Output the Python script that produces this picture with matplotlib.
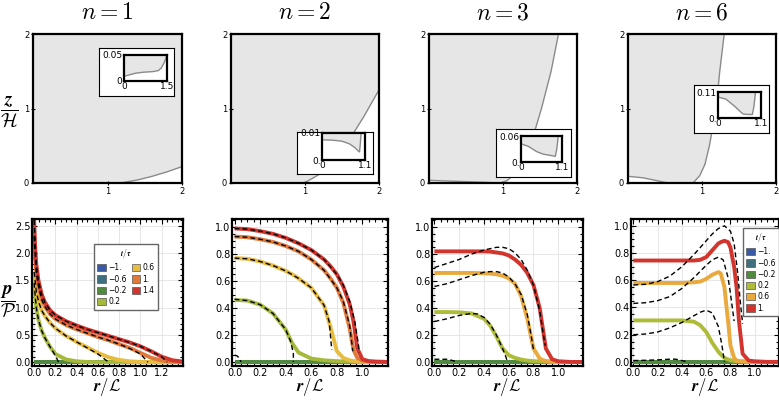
import matplotlib
matplotlib.use("Agg")
import matplotlib.pyplot as plt
from matplotlib.patches import Patch

plt.rcParams['mathtext.fontset'] = 'cm'
plt.rcParams['font.family'] = ['DejaVu Sans']

W, H = 779, 400
fig = plt.figure(figsize=(7.79, 4.0), dpi=100)

def ax_px(x0, y0, x1, y1, **kw):
    return fig.add_axes([x0 / W, 1 - y1 / H, (x1 - x0) / W, (y1 - y0) / H], **kw)

# ---------------- data: top row (free surface z/H vs r/L) ----------------
n_values = [1, 2, 3, 6]
top_x = [
    [0.0, 1.0, 1.2, 1.4, 1.6, 1.8, 2.0],
    [0.0, 0.95, 1.0, 1.2, 1.4, 1.6, 1.8, 2.0],
    [0.0, 0.3, 0.6, 0.96, 1.05, 1.1, 1.2, 1.37, 1.52, 1.65, 1.75],
    [0.0, 0.2, 0.4, 0.54, 0.88, 0.97, 1.04, 1.1, 1.19, 1.24, 1.30],
]
top_y = [
    [0.0, 0.0, 0.005, 0.04, 0.09, 0.15, 0.22],
    [0.0, 0.0, 0.005, 0.12, 0.32, 0.58, 0.9, 1.25],
    [0.036, 0.025, 0.015, 0.0, 0.03, 0.07, 0.18, 0.5, 1.0, 1.5, 2.0],
    [0.09, 0.07, 0.03, 0.0, 0.0, 0.1, 0.25, 0.5, 1.0, 1.5, 2.0],
]
# insets
ins_x = [
    [0.0, 0.2, 0.4, 0.7, 1.0, 1.2, 1.3, 1.4, 1.5],
    [0.0, 0.3, 0.5, 0.7, 0.85, 0.93, 0.96, 0.98, 1.0],
    [0.0, 0.2, 0.42, 0.6, 0.8, 0.92, 0.96, 1.0],
    [0.0, 0.2, 0.43, 0.55, 0.64, 0.75, 0.88, 0.92, 0.96],
]
ins_y = [
    [0.009, 0.012, 0.015, 0.017, 0.018, 0.02, 0.025, 0.035, 0.05],
    [0.0075, 0.0073, 0.007, 0.006, 0.0045, 0.0033, 0.003, 0.006, 0.01],
    [0.042, 0.036, 0.024, 0.018, 0.015, 0.013, 0.03, 0.06],
    [0.089, 0.08, 0.049, 0.03, 0.017, 0.015, 0.015, 0.05, 0.11],
]
ins_xmax = [1.5, 1.1, 1.1, 1.1]
ins_ymax = [0.05, 0.01, 0.06, 0.11]
ins_xlabels = [["0", "1.5"], ["0", "1.1"], ["0", "1.1"], ["0", "1.1"]]
ins_ylabels = [["0", "0.05"], ["0.", "0.01"], ["0.", "0.06"], ["0.", "0.11"]]

# ---------------- data: bottom row (pressure p/P vs r/L) ----------------
t_vals7 = ["\u22121.", "\u22120.6", "\u22120.2", "0.2", "0.6", "1.", "1.4"]
t_vals6 = ["\u22121.", "\u22120.6", "\u22120.2", "0.2", "0.6", "1."]
col7 = ["#3a5aa6", "#3e6f7e", "#4f8a3f", "#a6b93a", "#e7bc40", "#e07a3c", "#d1352d"]
col6 = ["#3a5aa6", "#3e6f7e", "#4f8a3f", "#aebc3a", "#e9a93c", "#d1352d"]

# panel n=1
r1 = [0, 0.01, 0.02, 0.04, 0.07, 0.1, 0.15, 0.2, 0.3, 0.4, 0.5, 0.6, 0.7, 0.8, 0.9, 1.0, 1.1, 1.2, 1.3, 1.4]
p1 = {
    "1.4": [2.6, 2.1, 1.8, 1.5, 1.25, 1.1, 0.95, 0.86, 0.75, 0.67, 0.6, 0.54, 0.48, 0.42, 0.36, 0.29, 0.2, 0.1, 0.035, 0.01],
    "1.": [2.3, 1.9, 1.65, 1.4, 1.15, 1.02, 0.88, 0.79, 0.68, 0.6, 0.53, 0.46, 0.4, 0.33, 0.26, 0.17, 0.08, 0.03, 0.01, 0.003],
    "0.6": [1.65, 1.45, 1.3, 1.12, 0.95, 0.85, 0.72, 0.62, 0.48, 0.37, 0.27, 0.17, 0.09, 0.04, 0.015, 0.005, 0.002, 0.0, 0.0, 0.0],
    "0.2": [1.45, 1.2, 1.0, 0.78, 0.58, 0.45, 0.28, 0.15, 0.05, 0.015, 0.004, 0.0, 0.0, 0.0, 0.0, 0.0, 0.0, 0.0, 0.0, 0.0],
}
d1 = {
    "1.4": ([0, 0.02, 0.04, 0.07, 0.1, 0.15, 0.2, 0.3, 0.4, 0.5, 0.6, 0.7, 0.8, 0.9, 1.0, 1.1, 1.2, 1.25],
            [2.6, 1.8, 1.5, 1.25, 1.1, 0.95, 0.86, 0.75, 0.67, 0.6, 0.54, 0.48, 0.42, 0.36, 0.29, 0.2, 0.1, 0.0]),
    "1.": ([0, 0.02, 0.04, 0.07, 0.1, 0.15, 0.2, 0.3, 0.4, 0.5, 0.6, 0.7, 0.8, 0.9, 1.0, 1.07],
           [2.3, 1.65, 1.4, 1.15, 1.02, 0.88, 0.79, 0.68, 0.6, 0.53, 0.46, 0.4, 0.33, 0.25, 0.15, 0.0]),
    "0.6": ([0, 0.02, 0.04, 0.07, 0.1, 0.15, 0.2, 0.3, 0.4, 0.5, 0.6, 0.7],
            [1.65, 1.3, 1.12, 0.95, 0.85, 0.72, 0.62, 0.48, 0.37, 0.26, 0.15, 0.0]),
    "0.2": ([0, 0.02, 0.04, 0.07, 0.1, 0.15, 0.2, 0.23],
            [1.45, 1.0, 0.78, 0.58, 0.45, 0.28, 0.12, 0.0]),
}

# panel n=2
r2 = [0, 0.1, 0.2, 0.3, 0.4, 0.45, 0.5, 0.6, 0.7, 0.75, 0.8, 0.85, 0.9, 0.93, 0.96, 1.0, 1.05, 1.1, 1.2]
p2 = {
    "1.4": [0.99, 0.985, 0.97, 0.95, 0.92, 0.9, 0.88, 0.83, 0.76, 0.71, 0.65, 0.56, 0.43, 0.3, 0.1, 0.02, 0.006, 0.002, 0.0],
    "1.": [0.93, 0.925, 0.91, 0.89, 0.86, 0.84, 0.82, 0.76, 0.68, 0.62, 0.55, 0.44, 0.25, 0.09, 0.03, 0.01, 0.004, 0.002, 0.0],
    "0.6": [0.77, 0.765, 0.745, 0.715, 0.675, 0.65, 0.62, 0.55, 0.42, 0.26, 0.08, 0.03, 0.012, 0.007, 0.004, 0.002, 0.001, 0.0, 0.0],
    "0.2": [0.46, 0.455, 0.425, 0.36, 0.24, 0.14, 0.07, 0.025, 0.012, 0.009, 0.006, 0.004, 0.003, 0.002, 0.001, 0.0, 0.0, 0.0, 0.0],
}
d2 = {
    "1.4": ([0, 0.1, 0.2, 0.3, 0.4, 0.5, 0.6, 0.7, 0.8, 0.85, 0.9, 0.94, 0.97, 0.975],
            [0.99, 0.985, 0.97, 0.95, 0.92, 0.88, 0.83, 0.76, 0.65, 0.57, 0.45, 0.3, 0.12, 0.07]),
    "1.": ([0, 0.1, 0.2, 0.3, 0.4, 0.5, 0.6, 0.7, 0.8, 0.85, 0.9, 0.925],
           [0.93, 0.925, 0.91, 0.89, 0.86, 0.82, 0.76, 0.68, 0.55, 0.45, 0.27, 0.08]),
    "0.6": ([0, 0.1, 0.2, 0.3, 0.4, 0.5, 0.6, 0.7, 0.74, 0.76],
            [0.77, 0.765, 0.745, 0.715, 0.675, 0.62, 0.55, 0.42, 0.3, 0.09]),
    "0.2": ([0, 0.1, 0.2, 0.3, 0.4, 0.44, 0.46, 0.46],
            [0.465, 0.455, 0.425, 0.36, 0.24, 0.15, 0.06, 0.0]),
    "\u22120.2": ([0, 0.02, 0.04, 0.05], [0.05, 0.045, 0.025, 0.0]),
}

# panel n=3
r3 = [0, 0.1, 0.2, 0.3, 0.4, 0.45, 0.5, 0.55, 0.6, 0.65, 0.7, 0.75, 0.8, 0.85, 0.88, 0.9, 0.95, 1.0, 1.1, 1.2]
p3 = {
    "1.": [0.82, 0.82, 0.82, 0.82, 0.82, 0.818, 0.812, 0.805, 0.79, 0.76, 0.72, 0.66, 0.57, 0.4, 0.22, 0.1, 0.02, 0.005, 0.0, 0.0],
    "0.6": [0.66, 0.66, 0.66, 0.66, 0.658, 0.655, 0.65, 0.64, 0.62, 0.58, 0.49, 0.32, 0.1, 0.025, 0.012, 0.007, 0.003, 0.001, 0.0, 0.0],
    "0.2": [0.37, 0.37, 0.368, 0.36, 0.32, 0.27, 0.19, 0.1, 0.05, 0.03, 0.018, 0.01, 0.006, 0.004, 0.003, 0.002, 0.001, 0.0, 0.0, 0.0],
}
d3 = {
    "1.": ([0, 0.1, 0.2, 0.3, 0.4, 0.5, 0.55, 0.6, 0.65, 0.7, 0.75, 0.8, 0.85, 0.88, 0.895],
           [0.7, 0.73, 0.76, 0.8, 0.83, 0.85, 0.85, 0.84, 0.81, 0.76, 0.68, 0.57, 0.38, 0.2, 0.12]),
    "0.6": ([0, 0.1, 0.2, 0.3, 0.4, 0.45, 0.5, 0.55, 0.6, 0.65, 0.7, 0.75, 0.78, 0.8],
            [0.56, 0.58, 0.61, 0.64, 0.665, 0.67, 0.67, 0.66, 0.63, 0.58, 0.5, 0.35, 0.2, 0.09]),
    "0.2": ([0, 0.1, 0.2, 0.3, 0.35, 0.4, 0.45, 0.5, 0.55, 0.58, 0.59],
            [0.3, 0.32, 0.345, 0.36, 0.355, 0.33, 0.28, 0.2, 0.1, 0.03, 0.0]),
    "\u22120.2": ([0, 0.05, 0.1, 0.15, 0.18], [0.02, 0.02, 0.02, 0.01, 0.0]),
}

# panel n=6
r4 = [0, 0.1, 0.2, 0.3, 0.4, 0.5, 0.55, 0.6, 0.65, 0.7, 0.72, 0.75, 0.78, 0.8, 0.83, 0.85, 0.87, 0.9, 0.95, 1.0, 1.1, 1.2]
p4 = {
    "1.": [0.745, 0.745, 0.745, 0.745, 0.745, 0.745, 0.75, 0.77, 0.82, 0.87, 0.88, 0.89, 0.88, 0.84, 0.7, 0.55, 0.3, 0.06, 0.01, 0.004, 0.0, 0.0],
    "0.6": [0.58, 0.58, 0.58, 0.58, 0.58, 0.585, 0.59, 0.61, 0.64, 0.66, 0.65, 0.55, 0.3, 0.12, 0.03, 0.01, 0.006, 0.004, 0.002, 0.001, 0.0, 0.0],
    "0.2": [0.305, 0.305, 0.305, 0.305, 0.305, 0.295, 0.27, 0.22, 0.14, 0.075, 0.055, 0.03, 0.018, 0.012, 0.007, 0.005, 0.004, 0.003, 0.002, 0.001, 0.0, 0.0],
}
d4 = {
    "1.": ([0, 0.1, 0.2, 0.3, 0.4, 0.5, 0.55, 0.6, 0.65, 0.7, 0.75, 0.8, 0.83, 0.86, 0.88, 0.9],
           [0.565, 0.57, 0.59, 0.63, 0.7, 0.79, 0.84, 0.89, 0.94, 0.98, 1.0, 0.96, 0.87, 0.65, 0.45, 0.28]),
    "0.6": ([0, 0.1, 0.2, 0.3, 0.4, 0.5, 0.6, 0.65, 0.7, 0.74, 0.78, 0.8, 0.83],
            [0.43, 0.435, 0.45, 0.48, 0.54, 0.62, 0.71, 0.75, 0.77, 0.75, 0.62, 0.5, 0.3]),
    "0.2": ([0, 0.1, 0.2, 0.3, 0.4, 0.5, 0.55, 0.6, 0.65, 0.7, 0.73, 0.75],
            [0.2, 0.205, 0.22, 0.25, 0.29, 0.34, 0.365, 0.38, 0.36, 0.26, 0.12, 0.0]),
    "\u22120.2": ([0, 0.1, 0.2, 0.3, 0.35, 0.4, 0.45], [0.01, 0.012, 0.015, 0.02, 0.02, 0.01, 0.0]),
}

bottom_r = [r1, r2, r3, r4]
bottom_p = [p1, p2, p3, p4]
bottom_d = [d1, d2, d3, d4]
bottom_vals = [t_vals7, t_vals7, t_vals6, t_vals6]
bottom_cols = [col7, col7, col6, col6]
bottom_xlim = [(-0.02, 1.4), (-0.02, 1.2), (-0.02, 1.2), (-0.02, 1.2)]
bottom_ylim = [(-0.07, 2.62), (-0.03, 1.06), (-0.03, 1.06), (-0.03, 1.05)]
bottom_xticks = [[0, 0.2, 0.4, 0.6, 0.8, 1.0, 1.2], [0, 0.2, 0.4, 0.6, 0.8, 1.0],
                 [0, 0.2, 0.4, 0.6, 0.8, 1.0], [0, 0.2, 0.4, 0.6, 0.8, 1.0]]
bottom_yticks = [[0, 0.5, 1.0, 1.5, 2.0, 2.5], [0, 0.2, 0.4, 0.6, 0.8, 1.0],
                 [0, 0.2, 0.4, 0.6, 0.8, 1.0], [0, 0.2, 0.4, 0.6, 0.8, 1.0]]

# ---------------- layout (pixels) ----------------
top_pos = [(33, 34, 182, 183), (231, 34, 379, 183), (429, 34, 577, 183), (628, 34, 776, 183)]
outer_pos = [(99, 48, 174, 96), (297, 132, 373, 174), (496, 129, 571, 177), (694, 85, 769, 133)]
inner_pos = [(124, 55, 167, 81), (322, 133, 365, 160), (521, 136, 562, 162), (718, 92, 761, 118)]
bot_pos = [(32, 219, 183, 366), (232, 219, 388, 366), (432, 219, 583, 366), (631, 219, 779, 366)]

FILL = "#e6e6e6"
LINE = "#8a8a8a"

for i in range(4):
    # ---- top panel
    ax = ax_px(*top_pos[i])
    xs, ys = top_x[i], top_y[i]
    ax.fill(list(xs) + [xs[-1], xs[0]], list(ys) + [2.0, 2.0], color=FILL, lw=0)
    ax.plot(xs, ys, color=LINE, lw=1.0)
    ax.set_xlim(0, 2)
    ax.set_ylim(0, 2)
    ax.set_xticks([1, 2])
    ax.set_yticks([0, 1, 2])
    ax.set_xticklabels(["1", "2"])
    ax.set_yticklabels(["0", "1", "2"])
    ax.tick_params(labelsize=6, length=2.5, width=0.8, direction="inout", pad=1.5)
    for s in ax.spines.values():
        s.set_linewidth(1.6)
    fig.text((top_pos[i][0] + top_pos[i][2]) / 2 / W, 1 - 12 / H, r"$n = %d$" % n_values[i],
             fontsize=17, ha="center", va="center")

    # ---- inset
    ao = ax_px(*outer_pos[i])
    ao.set_xticks([]); ao.set_yticks([])
    ao.set_facecolor("white")
    for s in ao.spines.values():
        s.set_linewidth(0.8)
    ai = ax_px(*inner_pos[i])
    ai.fill(list(ins_x[i]) + [ins_x[i][-1], ins_x[i][0]], list(ins_y[i]) + [ins_ymax[i], ins_ymax[i]],
            color=FILL, lw=0)
    ai.plot(ins_x[i], ins_y[i], color=LINE, lw=1.0)
    ai.set_xlim(0, ins_xmax[i])
    ai.set_ylim(0, ins_ymax[i])
    ai.set_xticks([0, ins_xmax[i]])
    ai.set_yticks([0, ins_ymax[i]])
    ai.set_xticklabels(ins_xlabels[i])
    ai.set_yticklabels(ins_ylabels[i])
    ai.tick_params(labelsize=6.5, length=0, pad=1)
    for s in ai.spines.values():
        s.set_linewidth(1.6)

    # ---- bottom panel
    bx = ax_px(*bot_pos[i])
    vals, cols = bottom_vals[i], bottom_cols[i]
    r = bottom_r[i]
    zeros = [0.0] * len(r)
    for k, v in enumerate(vals):
        yv = bottom_p[i].get(v, zeros)
        bx.plot(r, yv, color=cols[k], lw=2.8, solid_capstyle="butt", zorder=2 + k * 0.01)
    for v, (dr, dp) in bottom_d[i].items():
        bx.plot(dr, dp, color="black", lw=1.0, ls=(0, (3.5, 2.2)), zorder=4)
    bx.set_xlim(*bottom_xlim[i])
    bx.set_ylim(*bottom_ylim[i])
    bx.set_xticks(bottom_xticks[i])
    bx.set_yticks(bottom_yticks[i])
    bx.set_xticklabels(["%.1f" % t for t in bottom_xticks[i]])
    bx.set_yticklabels(["%.1f" % t for t in bottom_yticks[i]])
    bx.grid(True, color="#e3e3e3", lw=0.6)
    bx.set_axisbelow(True)
    bx.minorticks_on()
    bx.tick_params(which="both", direction="in", top=True, right=True, width=0.8)
    bx.tick_params(which="major", length=3.5, labelsize=7, pad=1.2)
    bx.tick_params(which="minor", length=2)
    for s in bx.spines.values():
        s.set_linewidth(1.6)
    fig.text((bot_pos[i][0] + bot_pos[i][2]) / 2 / W, 1.5 / H, r"$\boldsymbol{r/}\mathcal{L}$",
             fontsize=12, ha="center", va="bottom")

    if i in (0, 3):
        handles = [Patch(facecolor=c, edgecolor="#555555", lw=0.5) for c in cols]
        common = dict(title=r"$\boldsymbol{t/\tau}$", loc="upper left", fontsize=5.5, title_fontsize=5.5,
                      handlelength=1.1, handleheight=1.1, handletextpad=0.35, labelspacing=0.3,
                      borderpad=0.45, borderaxespad=0, fancybox=False, framealpha=1, edgecolor="#666666")
        if i == 0:
            leg = bx.legend(handles, vals, ncol=2, columnspacing=0.6,
                            bbox_to_anchor=((94 - bot_pos[0][0]) / (bot_pos[0][2] - bot_pos[0][0]),
                                            1 - (244 - bot_pos[0][1]) / (bot_pos[0][3] - bot_pos[0][1])),
                            **common)
        else:
            leg = bx.legend(handles, vals, ncol=1,
                            bbox_to_anchor=((743 - bot_pos[3][0]) / (bot_pos[3][2] - bot_pos[3][0]),
                                            1 - (228 - bot_pos[3][1]) / (bot_pos[3][3] - bot_pos[3][1])),
                            **common)
        leg._legend_box.sep = 2
        leg.get_frame().set_linewidth(1.0)

fig.text(9 / W, 1 - 112 / H, r"$\dfrac{\boldsymbol{z}}{\mathcal{H}}$", fontsize=14, ha="center", va="center")
fig.text(8 / W, 1 - 302 / H, r"$\dfrac{\boldsymbol{p}}{\mathcal{P}}$", fontsize=13.5, ha="center", va="center")

fig.savefig("out.png", dpi=100)
